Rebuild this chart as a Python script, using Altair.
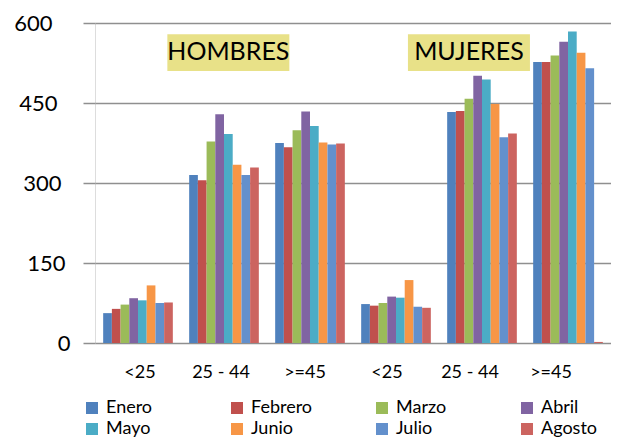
import altair as alt
import pandas as pd

meses = ["Enero", "Febrero", "Marzo", "Abril", "Mayo", "Junio", "Julio", "Agosto"]
colores = ["#4F81BD", "#C0504D", "#9BBB59", "#8064A2", "#4BACC6", "#F79646", "#6390CC", "#CC6460"]
grupos = ["H|<25", "H|25 - 44", "H|>=45", "M|<25", "M|25 - 44", "M|>=45"]

h_menor25 = [56, 64, 72, 84, 80, 108, 75, 76]
h_25_44 = [315, 305, 378, 429, 392, 334, 315, 329]
h_mayor45 = [375, 367, 399, 434, 407, 376, 372, 374]
m_menor25 = [73, 70, 75, 87, 85, 118, 68, 66]
m_25_44 = [433, 435, 458, 501, 494, 448, 386, 393]
m_mayor45 = [527, 527, 539, 565, 584, 544, 515, 2]

series = [h_menor25, h_25_44, h_mayor45, m_menor25, m_25_44, m_mayor45]

rows = []
for g, vals in zip(grupos, series):
    for m, v in zip(meses, vals):
        rows.append({"grupo": g, "mes": m, "valor": v})
df = pd.DataFrame(rows)

etiquetas = ["HOMBRES", "MUJERES"]
etiqueta_grupo = ["H|25 - 44", "M|25 - 44"]
etiqueta_mes = ["Mayo", "Marzo"]
ann = pd.DataFrame({"texto": etiquetas, "grupo": etiqueta_grupo, "mes": etiqueta_mes,
                    "lo": [510, 510], "hi": [579, 579], "mid": [545, 545]})

FONT = "Lato"

x_enc = alt.X("grupo:N", sort=grupos, title=None,
              scale=alt.Scale(paddingInner=0.19, paddingOuter=0.095),
              axis=alt.Axis(labelExpr="split(datum.value, '|')[1]", domain=False, ticks=False,
                            labelFont=FONT, labelFontSize=18, labelColor="#000", labelPadding=20,
                            labelAngle=0, grid=False,
                            labelOffset={"condition": [
                                {"test": "datum.value === 'H|25 - 44'", "value": -3},
                                {"test": "datum.value === 'H|>=45'", "value": -5},
                                {"test": "datum.value === 'M|<25'", "value": -9},
                                {"test": "datum.value === 'M|25 - 44'", "value": -12},
                                {"test": "datum.value === 'M|>=45'", "value": -17}],
                                "value": 2}))
xo_enc = alt.XOffset("mes:N", sort=meses, scale=alt.Scale(paddingInner=0, paddingOuter=0))

bars = alt.Chart(df).mark_bar().encode(
    x=x_enc,
    xOffset=xo_enc,
    y=alt.Y("valor:Q", title=None,
            scale=alt.Scale(domain=[0, 600], nice=False),
            axis=alt.Axis(values=[0, 150, 300, 450, 600], domain=False, tickColor="#8f8f8f",
                          tickSize=12, tickWidth=1.5, gridColor="#8f8f8f", gridWidth=1.5,
                          labelFont=FONT, labelFontSize=22, labelColor="#000",
                          labelPadding={"condition": [
                              {"test": "datum.value === 600", "value": 31},
                              {"test": "datum.value === 450", "value": 26},
                              {"test": "datum.value === 300", "value": 22},
                              {"test": "datum.value === 150", "value": 18}],
                              "value": 13})),
    color=alt.Color("mes:N", sort=meses, scale=alt.Scale(domain=meses, range=colores),
                    legend=alt.Legend(title=None, orient="none", legendX=-12, legendY=376,
                                      direction="horizontal",
                                      columns=4, gridAlign="all", columnPadding=60, rowPadding=3,
                                      symbolType="square", symbolSize=144, symbolStrokeWidth=0,
                                      labelFont=FONT, labelFontSize=18, labelColor="#000",
                                      labelOffset=5, padding=0)),
)

box = alt.Chart(ann).mark_bar(width=122, color="#E8E188").encode(
    x=alt.X("grupo:N", sort=grupos),
    xOffset=alt.XOffset("mes:N", sort=meses),
    y="lo:Q", y2="hi:Q",
)
txt = alt.Chart(ann).mark_text(font=FONT, fontSize=25, color="#000", baseline="middle").encode(
    x=alt.X("grupo:N", sort=grupos),
    xOffset=alt.XOffset("mes:N", sort=meses),
    y="mid:Q",
    text="texto:N",
)

chart = alt.layer(bars, box, txt).properties(
    width=516, height=320,
    padding={"left": 87, "top": 15, "right": 0, "bottom": 94},
    autosize=alt.AutoSizeParams(type="none"),
).configure_view(stroke=None).configure(background="white")

chart.save("out.html", embed_options={"renderer": "svg", "actions": False})
